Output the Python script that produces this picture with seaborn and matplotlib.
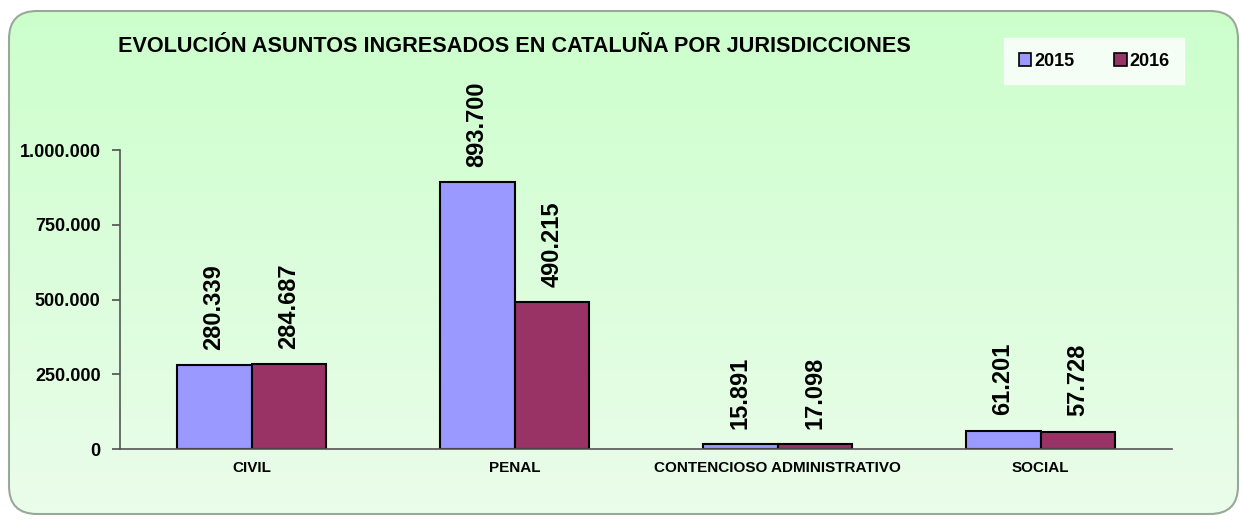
import numpy as np
import pandas as pd
import matplotlib
matplotlib.use("Agg")
import matplotlib.pyplot as plt
from matplotlib.patches import FancyBboxPatch, Patch
import seaborn as sns

categories = ["CIVIL", "PENAL", "CONTENCIOSO ADMINISTRATIVO", "SOCIAL"]
years = ["2015", "2016"]
values_2015 = [280339, 893700, 15891, 61201]
values_2016 = [284687, 490215, 17098, 57728]
yticks = [0, 250000, 500000, 750000, 1000000]
title = "EVOLUCIÓN ASUNTOS INGRESADOS EN CATALUÑA POR JURISDICCIONES"
colors = ["#9999FF", "#993366"]

df = pd.DataFrame({
    "cat": categories * 2,
    "year": [years[0]] * 4 + [years[1]] * 4,
    "val": values_2015 + values_2016,
})

sns.set_theme(style="white")
plt.rcParams["font.family"] = ["Liberation Sans", "DejaVu Sans"]
plt.rcParams["text.color"] = "black"
plt.rcParams["xtick.color"] = "black"
plt.rcParams["ytick.color"] = "black"

def fmt(v):
    return f"{int(round(v)):,}".replace(",", ".")

fig = plt.figure(figsize=(12.42, 5.2), dpi=100)
fig.patch.set_facecolor("white")

# background gradient with rounded border
bg = fig.add_axes([0, 0, 1, 1], zorder=-5)
bg.set_xlim(0, 1242)
bg.set_ylim(520, 0)
bg.axis("off")
top = np.array([0.80, 1.00, 0.80])
bot = np.array([0.92, 0.99, 0.92])
t = np.linspace(0, 1, 256)[:, None]
grad = (top[None, :] * (1 - t) + bot[None, :] * t)[:, None, :]
box = FancyBboxPatch((9, 11), 1229, 503, boxstyle="round,pad=0,rounding_size=28",
                     facecolor="none", edgecolor="#9aa89a", linewidth=1.5, transform=bg.transData)
im = bg.imshow(grad, extent=(9, 1238, 514, 11), aspect="auto", zorder=0)
im.set_clip_path(box)
bg.add_patch(box)

ax = fig.add_axes([120 / 1242, 71 / 520, 1052 / 1242, 299 / 520])
ax.set_facecolor("none")
sns.barplot(data=df, x="cat", y="val", hue="year", palette=colors, width=0.57,
            edgecolor="black", linewidth=1.5, ax=ax, legend=False, saturation=1)

for cont in ax.containers:
    ax.bar_label(cont, labels=[fmt(b.get_height()) for b in cont], rotation=90,
                 padding=11, fontsize=17, fontweight="bold", color="black")

ax.set_ylim(0, 1000000)
ax.set_xlim(-0.5, 3.5)
ax.set_yticks(yticks)
ax.set_yticklabels([fmt(v) for v in yticks], fontsize=13, fontweight="bold")
ax.set_xticks(range(4))
ax.set_xticklabels(categories, fontsize=11, fontweight="bold")
ax.set_xticks([0.5, 1.5, 2.5], minor=True)
ax.tick_params(axis="x", which="major", length=0, pad=9)
ax.tick_params(axis="x", which="minor", length=6, color="#555555", direction="out")
ax.tick_params(axis="y", length=6, color="#555555", direction="out", left=True, pad=8)
ax.set_xlabel("")
ax.set_ylabel("")
for s in ["top", "right"]:
    ax.spines[s].set_visible(False)
for s in ["left", "bottom"]:
    ax.spines[s].set_color("#555555")
    ax.spines[s].set_linewidth(1.2)
ax.grid(False)

fig.text(118 / 1242, 1 - 46 / 520, title, fontsize=15.6, fontweight="bold",
         ha="left", va="center", color="black")

handles = [Patch(facecolor=c, edgecolor="black", linewidth=1.2) for c in colors]
leg = fig.legend(handles, years, loc="center", bbox_to_anchor=(1094 / 1242, 1 - 61 / 520),
                 ncol=2, frameon=True, fancybox=False, handlelength=0.7, handleheight=0.7,
                 handletextpad=0.15, columnspacing=2.2, borderpad=0.8,
                 prop={"weight": "bold", "size": 13})
leg.get_frame().set_facecolor("white")
leg.get_frame().set_edgecolor("white")

fig.savefig("out.png", dpi=100)
